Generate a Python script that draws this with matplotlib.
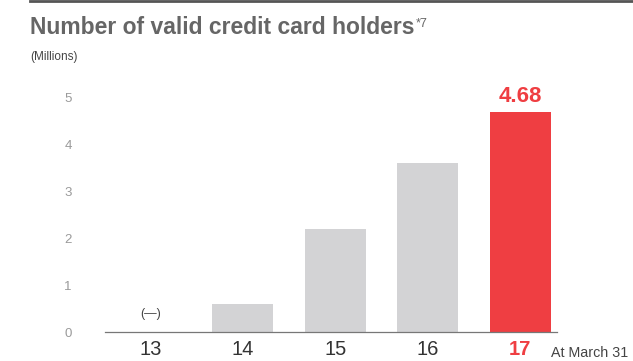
import matplotlib.pyplot as plt
from matplotlib.lines import Line2D

years = ["13", "14", "15", "16", "17"]
holders = [0, 0.6, 2.2, 3.6, 4.68]
bar_colors = ["#d3d3d5", "#d3d3d5", "#d3d3d5", "#d3d3d5", "#ef3e42"]
yticks = [0, 1, 2, 3, 4, 5]

plt.rcParams['font.family'] = ['Liberation Sans', 'DejaVu Sans']

fig = plt.figure(figsize=(6.33, 3.61), dpi=100)
ax = fig.add_axes([0.1659, 0.0803, 0.714, 0.69])

x = range(len(years))
ax.bar(x, holders, width=0.66, color=bar_colors, zorder=2)

ax.set_xlim(-0.49, 4.4)
ax.set_ylim(0, 5.3)
ax.set_yticks(yticks)
ax.set_yticklabels([str(t) for t in yticks], fontsize=9.5, color="#9a9a9a")
ax.tick_params(axis="y", length=0, pad=24)
ax.set_xticks(list(x))
ax.set_xticklabels(years, fontsize=14.5, color="#333333")
ax.tick_params(axis="x", length=0, pad=6)
xt = ax.get_xticklabels()
xt[-1].set_color("#ef3e42")
xt[-1].set_fontweight("bold")

for s in ["top", "right", "left"]:
    ax.spines[s].set_visible(False)
ax.spines["bottom"].set_color("#777777")
ax.spines["bottom"].set_linewidth(0.9)

# value label on the latest year, blank marker for the first
ax.text(4, holders[4] + 0.1, f"{holders[4]:.2f}", ha="center", va="bottom",
        fontsize=16, fontweight="bold", color="#ef3e42")
ax.text(0, 0.25, "(\u2014)", ha="center", va="bottom", fontsize=9, color="#444444")

fig.text(551 / 633, 1 - 353 / 361, "At March 31", fontsize=10.3, color="#444444",
         ha="left", va="center")

title = fig.text(30 / 633, 1 - 28 / 361, "Number of valid credit card holders",
                 fontsize=16.5, fontweight="bold", color="#666666", ha="left", va="center")
ax.annotate("*7", xy=(1, 0.95), xycoords=title, xytext=(1, 0), textcoords="offset points",
            fontsize=9, color="#666666", ha="left", va="top")
fig.text(30 / 633, 1 - 57 / 361, "(Millions)", fontsize=8.5, color="#444444",
         ha="left", va="center")

fig.add_artist(Line2D([30 / 633, 1], [1 - 1 / 361, 1 - 1 / 361],
                      transform=fig.transFigure, color="#555555", linewidth=2))

fig.savefig("out.png", dpi=100)
